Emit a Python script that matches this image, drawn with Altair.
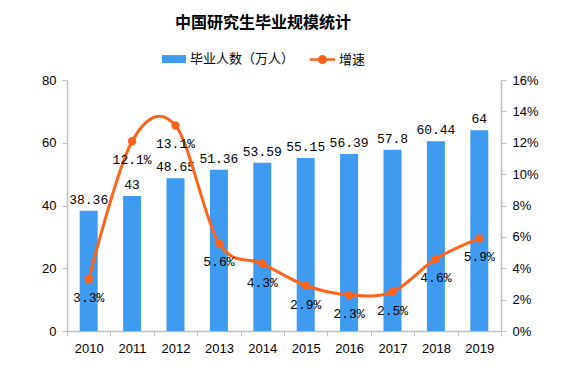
import altair as alt
import pandas as pd

years = ["2010", "2011", "2012", "2013", "2014", "2015", "2016", "2017", "2018", "2019"]
graduates = [38.36, 43, 48.65, 51.36, 53.59, 55.15, 56.39, 57.8, 60.44, 64]
growth_pct = [3.3, 12.1, 13.1, 5.6, 4.3, 2.9, 2.3, 2.5, 4.6, 5.9]
bar_name = "毕业人数（万人）"
line_name = "增速"
left_ticks = [0, 20, 40, 60, 80]
right_ticks = [0, 2, 4, 6, 8, 10, 12, 14, 16]

df = pd.DataFrame({
    "year": years,
    "grads": graduates,
    "growth": [g / 100 for g in growth_pct],
    "s1": bar_name,
    "s2": line_name,
})

BLUE = "#3E9BF0"
ORANGE = "#FF6319"
FONT_CJK = "Noto Sans CJK SC"
FONT_MONO = "Liberation Mono"

x = alt.X("year:N", sort=years, title=None,
          scale=alt.Scale(paddingInner=0, paddingOuter=0),
          axis=alt.Axis(labelAngle=0, tickBand="extent", labelPadding=6))

base_bar = alt.Chart(df).encode(
    x=x,
    y=alt.Y("grads:Q", title=None,
            scale=alt.Scale(domain=[0, 80], nice=False),
            axis=alt.Axis(values=left_ticks, orient="left", minExtent=54, labelPadding=6)),
)

bars = base_bar.mark_bar(size=18).encode(
    fill=alt.Fill("s1:N", scale=alt.Scale(range=[BLUE]),
                  legend=alt.Legend(title=None, orient="none", legendX=95, legendY=-33,
                                    symbolType="M-1,-0.33H1V0.33H-1Z", symbolSize=576,
                                    symbolStrokeWidth=0, labelFont=FONT_CJK, labelFontSize=13,
                                    labelColor="#000000", labelOffset=4, padding=0))
)
bar_text = base_bar.mark_text(baseline="alphabetic", dy=-7, font=FONT_MONO, fontSize=13,
                              color="#000000").encode(text=alt.Text("grads:Q"))

base_line = alt.Chart(df).encode(
    x=x,
    y=alt.Y("growth:Q", title=None,
            scale=alt.Scale(domain=[0, 0.16], nice=False),
            axis=alt.Axis(values=[v / 100 for v in right_ticks], format=".0%", orient="right",
                          labelPadding=6)),
)
line = base_line.mark_line(color=ORANGE, strokeWidth=3, interpolate="cardinal")
points = base_line.mark_circle(size=70, opacity=1).encode(
    color=alt.Color("s2:N", scale=alt.Scale(range=[ORANGE]),
                    legend=alt.Legend(title=None, orient="none", legendX=243, legendY=-33,
                                      symbolType="M-1,-0.1H1V0.1H-1Z M0.36,0 A0.36,0.36 0 1,1 -0.36,0 A0.36,0.36 0 1,1 0.36,0Z",
                                      symbolSize=625, symbolStrokeWidth=0, symbolOpacity=1,
                                      labelFont=FONT_CJK, labelFontSize=13,
                                      labelColor="#000000", labelOffset=4, padding=0))
)
pct_text = base_line.mark_text(baseline="top", dy=13, font=FONT_MONO, fontSize=13,
                               color="#000000").encode(text=alt.Text("growth:Q", format=".1%"))

chart = alt.layer(
    alt.layer(bars, bar_text),
    alt.layer(line, points, pct_text),
).resolve_scale(y="independent").properties(
    width=434, height=251,
    background="#FFFFFF",
    autosize=alt.AutoSizeParams(type="none"),
    padding={"left": 59, "top": 72, "right": 59, "bottom": 43},
    title=alt.TitleParams("中国研究生毕业规模统计", font=FONT_CJK, fontSize=16, fontWeight="bold",
                          color="#000000", anchor="middle", dx=-21, offset=16),
).configure_view(stroke=None).configure_axis(
    grid=False, labelFont="Liberation Sans", labelFontSize=13, labelColor="#000000",
    domainColor="#BFBFBF", tickColor="#BFBFBF", tickSize=5, domainWidth=1.5,
)

chart.save("out.html", embed_options={"renderer": "svg", "actions": False})
